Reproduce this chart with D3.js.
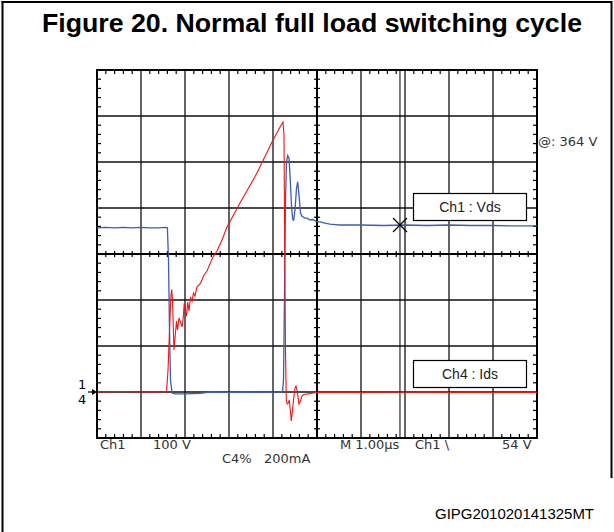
<!DOCTYPE html>
<html><head><meta charset="utf-8">
<script src="https://cdn.jsdelivr.net/npm/d3@7"></script>
<style>
html,body{margin:0;padding:0;background:#fff;}
svg{display:block;}
</style></head>
<body>
<script>
// ---- Data (time in µs from left edge of screen) ----
const ch1Time = [0,0.2,0.4,0.6,0.8,1.0,1.2,1.4,1.55,1.6,1.625,1.648,1.67,1.705,1.773,2.0,2.34,2.57,3.0,3.4,3.8,4.216,4.239,4.26,4.284,4.307,4.334,4.364,4.386,4.42,4.443,4.466,4.5,4.534,4.561,4.591,4.625,4.659,4.727,4.773,4.841,4.909,4.977,5.068,5.18,5.295,5.41,5.52,6.0,6.5,7.0,7.5,8.0,8.5,9.0,9.5,10];
const ch1Volts = [357,358,357,358,357,358,357,357,358,357,287,135,26,-2,-4,-4,-3,0,-1,0,-1,0,26,200,417,500,514,509,472,407,378,372,396,443,457,428,389,382,378,378,374,375,371,370,367,365,364,363,363,362,363,362,363,362,362,361,361];

const ch4Time = [0,0.5,1.0,1.58,1.614,1.648,1.682,1.698,1.716,1.739,1.75,1.773,1.807,1.83,1.864,1.898,1.932,1.955,1.984,2.011,2.034,2.061,2.091,2.125,2.159,2.193,2.227,2.273,2.341,2.386,2.432,2.5,2.568,2.636,2.727,2.841,2.955,3.25,3.636,3.977,4.136,4.227,4.25,4.266,4.284,4.302,4.325,4.348,4.37,4.393,4.416,4.439,4.466,4.5,4.523,4.552,4.591,4.625,4.659,4.705,4.773,4.841,4.909,4.977,6,7,8,9,10];
const ch4mA = [0,2,0,0,96,270,422,446,400,248,183,235,309,270,322,304,283,313,387,348,330,391,352,413,396,430,417,457,470,487,509,526,557,587,613,661,717,822,952,1087,1143,1174,1117,617,183,-35,-52,-48,-35,-78,-126,-87,-35,17,26,4,-52,-39,-17,-11,-9,-7,-4,-2,-2,-1,-2,-2,-2];

const cursorTime = 6.886;   // cursor position (µs)
const cursorVolts = 363;    // Ch1 value at cursor
const titleText = "Figure 20. Normal full load switching cycle";
const footerText = "GIPG201020141325MT";
const cursorLabel = "@: 364 V";
const ch1Label = "Ch1 : Vds";
const ch4Label = "Ch4 : Ids";
const hDivs = 10, vDivs = 8;

// ---- Scales ----
const W = 614, H = 532;
const x = d3.scaleLinear().domain([0, hDivs]).range([97, 537]);
const yDiv = d3.scaleLinear().domain([0, vDivs]).range([438, 70]);
const yV = d3.scaleLinear().domain([-100, 700]).range([438, 70]);   // 100 V/div, ground 1 div up
const yI = d3.scaleLinear().domain([-200, 1400]).range([438, 70]);  // 200 mA/div

const svg = d3.select("body").append("svg").attr("width", W).attr("height", H);

// outer frame
svg.append("line").attr("x1",2.5).attr("y1",1).attr("x2",2.5).attr("y2",H).attr("stroke","#000").attr("stroke-width",2);
svg.append("line").attr("x1",1.5).attr("y1",2).attr("x2",612).attr("y2",2).attr("stroke","#000").attr("stroke-width",2);
svg.append("line").attr("x1",611.5).attr("y1",1).attr("x2",611.5).attr("y2",478).attr("stroke","#000").attr("stroke-width",2);

// title
svg.append("text").attr("x", 312).attr("y", 32).attr("text-anchor","middle")
  .attr("font-family","'Liberation Sans', Arial, sans-serif").attr("font-weight","bold")
  .attr("font-size", 26.5).attr("fill","#000")
  .attr("textLength", 540).attr("lengthAdjust","spacingAndGlyphs").text(titleText);

// ---- Grid ----
const g = svg.append("g");
const gx = d3.range(0, hDivs + 1), gy = d3.range(0, vDivs + 1);
g.selectAll("line.vg").data(gx.filter(d => d > 0 && d < hDivs && d !== 5)).join("line")
  .attr("x1", d => x(d)).attr("x2", d => x(d)).attr("y1", yDiv(0)).attr("y2", yDiv(vDivs))
  .attr("stroke","#111").attr("stroke-width",1.3);
g.selectAll("line.hg").data(gy.filter(d => d > 0 && d < vDivs && d !== 4)).join("line")
  .attr("y1", d => yDiv(d)).attr("y2", d => yDiv(d)).attr("x1", x(0)).attr("x2", x(hDivs))
  .attr("stroke","#111").attr("stroke-width",1.3);
// center axes
g.append("line").attr("x1", x(5)).attr("x2", x(5)).attr("y1", yDiv(0)).attr("y2", yDiv(vDivs)).attr("stroke","#000").attr("stroke-width",2);
g.append("line").attr("y1", yDiv(4)).attr("y2", yDiv(4)).attr("x1", x(0)).attr("x2", x(hDivs)).attr("stroke","#000").attr("stroke-width",2);
// minor ticks
const mx = d3.range(0, hDivs * 5 + 1).map(i => i / 5).filter(d => Math.abs(d - Math.round(d)) > 1e-6);
const my = d3.range(0, vDivs * 5 + 1).map(i => i / 5).filter(d => Math.abs(d - Math.round(d)) > 1e-6);
const tk = g.append("g").attr("stroke","#000").attr("stroke-width",1.2);
mx.forEach(d => {
  tk.append("line").attr("x1", x(d)).attr("x2", x(d)).attr("y1", yDiv(4) - 3).attr("y2", yDiv(4) + 3);
  tk.append("line").attr("x1", x(d)).attr("x2", x(d)).attr("y1", yDiv(vDivs)).attr("y2", yDiv(vDivs) + 4);
  tk.append("line").attr("x1", x(d)).attr("x2", x(d)).attr("y1", yDiv(0)).attr("y2", yDiv(0) - 4);
});
my.forEach(d => {
  tk.append("line").attr("y1", yDiv(d)).attr("y2", yDiv(d)).attr("x1", x(5) - 3).attr("x2", x(5) + 3);
  tk.append("line").attr("y1", yDiv(d)).attr("y2", yDiv(d)).attr("x1", x(0)).attr("x2", x(0) + 4);
  tk.append("line").attr("y1", yDiv(d)).attr("y2", yDiv(d)).attr("x1", x(hDivs)).attr("x2", x(hDivs) - 4);
});
// cursor line
g.append("line").attr("x1", x(cursorTime)).attr("x2", x(cursorTime)).attr("y1", yDiv(0)).attr("y2", yDiv(vDivs)).attr("stroke","#000").attr("stroke-width",1);
// grid border
g.append("rect").attr("x", x(0)).attr("y", yDiv(vDivs)).attr("width", x(hDivs) - x(0)).attr("height", yDiv(0) - yDiv(vDivs))
  .attr("fill","none").attr("stroke","#000").attr("stroke-width",2);

// ---- Traces ----
const ch1 = ch1Time.map((t, i) => [t, ch1Volts[i]]);
const ch4 = ch4Time.map((t, i) => [t, ch4mA[i]]);
svg.append("path").datum(ch1).attr("fill","none").attr("stroke","#3d5cb4").attr("stroke-width",1.3)
  .attr("d", d3.line().x(d => x(d[0])).y(d => yV(d[1])));
svg.append("path").datum(ch4).attr("fill","none").attr("stroke","#f01414").attr("stroke-width",1.1)
  .attr("d", d3.line().x(d => x(d[0])).y(d => yI(d[1])));

// cursor X marker
const cx = x(cursorTime), cy = yV(cursorVolts);
svg.append("path").attr("d", `M${cx-7},${cy-7}L${cx+7},${cy+7}M${cx-7},${cy+7}L${cx+7},${cy-7}`)
  .attr("stroke","#000").attr("stroke-width",1.3);

// labels boxes
function box(x0, y0, w, h, label) {
  svg.append("rect").attr("x", x0).attr("y", y0).attr("width", w).attr("height", h)
    .attr("fill","#fff").attr("stroke","#000").attr("stroke-width",1.2);
  svg.append("text").attr("x", x0 + w / 2).attr("y", y0 + h / 2 + 5).attr("text-anchor","middle")
    .attr("font-family","'Liberation Sans', Arial, sans-serif").attr("font-size",14).attr("fill","#222").text(label);
}
box(413.5, 193.5, 113, 27, ch1Label);
box(413.5, 360.5, 113, 27, ch4Label);

// scope annotations
const sf = "'DejaVu Sans', sans-serif";
function st(xp, yp, s, color) {
  return svg.append("text").attr("x", xp).attr("y", yp)
    .attr("font-family", sf).attr("font-size", 13).attr("fill", color || "#333").text(s);
}
st(538, 146, cursorLabel);
st(78, 389, "1", "#000");
st(78, 404, "4", "#000");
svg.append("line").attr("x1", 88).attr("x2", 93).attr("y1", yV(0)).attr("y2", yV(0)).attr("stroke","#000").attr("stroke-width",1.2);
svg.append("path").attr("d", `M92,${yV(0)-3}L97,${yV(0)}L92,${yV(0)+3}Z`).attr("fill","#000");
st(100, 449, "Ch1");
st(153, 449, "100 V");
st(222, 463, "C4%");
st(264, 463, "200mA");
st(340, 449, "M 1.00µs");
st(415, 449, "Ch1  \\");
st(502, 449, "54 V");

// footer
svg.append("text").attr("x", 435).attr("y", 519)
  .attr("font-family","'Liberation Sans', Arial, sans-serif").attr("font-size",14).attr("fill","#000")
  .attr("textLength", 159).attr("lengthAdjust","spacingAndGlyphs").text(footerText);
</script>
</body></html>
